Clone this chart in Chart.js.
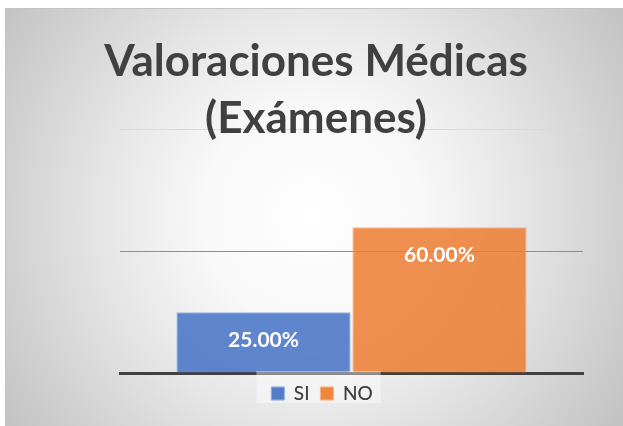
<!DOCTYPE html>
<html>
<head>
<meta charset="utf-8">
<script src="https://cdn.jsdelivr.net/npm/chart.js@4.4.1/dist/chart.umd.min.js"></script>
<style>
html,body{margin:0;padding:0;background:#fff;overflow:hidden}
#wrap{width:623px;height:426px;position:relative}
canvas{display:block}
</style>
</head>
<body>
<div id="wrap"><canvas id="c" width="623" height="426"></canvas></div>
<script>
// ---- data ----
const categories = [''];
const seriesNames = ['SI', 'NO'];
const siValues = [25];
const noValues = [60];
const titleLines = ['Valoraciones Médicas', '(Exámenes)'];
const yTickValues = [0, 50, 100];

// ---- plugins ----
const backgroundPlugin = {
  id: 'bg',
  beforeDraw(chart) {
    const ctx = chart.ctx, w = chart.width, h = chart.height;
    ctx.save();
    ctx.fillStyle = '#ffffff';
    ctx.fillRect(0, 0, w, h);
    const cx = 312, cy = 215;
    const g = ctx.createRadialGradient(cx, cy, 0, cx, cy, 370);
    g.addColorStop(0, '#ffffff');
    g.addColorStop(0.3, '#f8f8f8');
    g.addColorStop(0.56, '#e6e6e6');
    g.addColorStop(1, '#c3c3c3');
    ctx.fillStyle = g;
    ctx.fillRect(6, 9, w - 6, h - 9);
    ctx.strokeStyle = '#c4c4c4';
    ctx.lineWidth = 1;
    ctx.strokeRect(5.5, 8.5, w, h);
    ctx.restore();
  }
};

const legendShiftPlugin = {
  id: 'legendShift',
  afterLayout(chart) {
    const lg = chart.legend;
    if (!lg) return;
    lg.left += 6;
    lg.right += 6;
  }
};

const valueLabelPlugin = {
  id: 'valueLabels',
  afterDatasetsDraw(chart) {
    const ctx = chart.ctx;
    ctx.save();
    ctx.font = 'bold 21px Lato';
    ctx.fillStyle = '#ffffff';
    ctx.textAlign = 'center';
    ctx.textBaseline = 'middle';
    chart.data.datasets.forEach((ds, i) => {
      chart.getDatasetMeta(i).data.forEach((bar, j) => {
        ctx.fillText(ds.data[j].toFixed(2) + '%', bar.x, bar.y + 28);
      });
    });
    ctx.restore();
  }
};

const legendBoxPlugin = {
  id: 'legendBox',
  afterDraw(chart) {
    const lg = chart.legend;
    const hb = lg && lg.legendHitBoxes;
    if (!hb || !hb.length) return;
    const ctx = chart.ctx;
    const last = hb[hb.length - 1];
    const left = hb[0].left - 15;
    const right = last.left + last.width + 8;
    ctx.save();
    ctx.fillStyle = 'rgba(255,255,255,0.4)';
    ctx.fillRect(left, lg.top - 2, right - left, 32);
    ctx.restore();
    lg.draw();
  }
};

function build() {
  new Chart(document.getElementById('c'), {
    type: 'bar',
    data: {
      labels: categories,
      datasets: [
        {
          label: seriesNames[0],
          data: siValues,
          backgroundColor: 'rgba(68,114,196,0.85)',
          borderColor: 'rgba(150,176,224,1)',
          borderWidth: 1,
          categoryPercentage: 0.76,
          barPercentage: 0.99
        },
        {
          label: seriesNames[1],
          data: noValues,
          backgroundColor: 'rgba(237,125,49,0.85)',
          borderColor: 'rgba(246,180,140,1)',
          borderWidth: 1,
          categoryPercentage: 0.76,
          barPercentage: 0.99
        }
      ]
    },
    options: {
      responsive: false,
      animation: false,
      devicePixelRatio: 1,
      events: [],
      layout: { padding: { left: 49, right: 40, top: 0, bottom: 13 } },
      plugins: {
        title: {
          display: true,
          text: titleLines,
          color: '#404040',
          font: { family: 'Lato', weight: 'bold', size: 44, lineHeight: 1.309 },
          padding: { top: 32.7, bottom: -17.9 }
        },
        legend: {
          position: 'bottom',
          labels: {
            font: { family: 'Lato', size: 19 },
            color: '#404040',
            boxWidth: 13,
            boxHeight: 13,
            padding: 11
          }
        },
        tooltip: { enabled: false }
      },
      scales: {
        x: {
          z: 1,
          grid: { display: false, drawTicks: false },
          ticks: { display: false },
          border: { display: true, color: '#404040', width: 3 },
          afterFit: s => { s.height = 0; }
        },
        y: {
          min: 0,
          max: 100,
          afterBuildTicks: s => { s.ticks = yTickValues.map(v => ({ value: v })); },
          ticks: { display: false },
          grid: {
            color: c => (c.tick && c.tick.value === 100) ? '#dadada' : '#8e8e8e',
            lineWidth: 1,
            drawTicks: false
          },
          border: { display: false },
          afterFit: s => { s.width = 71; }
        }
      }
    },
    plugins: [backgroundPlugin, legendShiftPlugin, valueLabelPlugin, legendBoxPlugin]
  });
}

Promise.all([
  document.fonts.load('bold 44px Lato'),
  document.fonts.load('19px Lato')
]).then(build, build);
</script>
</body>
</html>
